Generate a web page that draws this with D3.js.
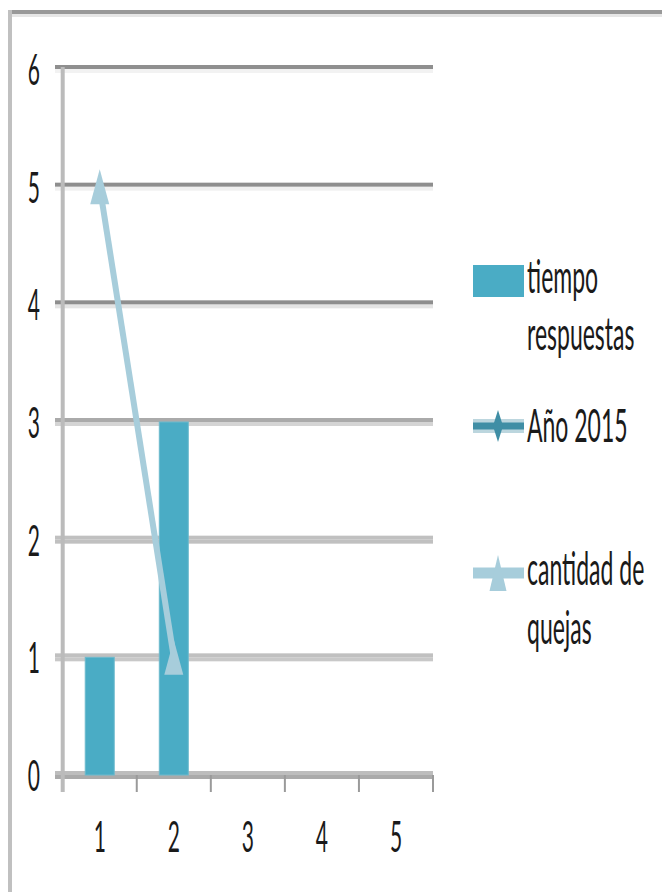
<!DOCTYPE html>
<html>
<head>
<meta charset="utf-8">
<script src="https://cdn.jsdelivr.net/npm/d3@7"></script>
<style>
  body { margin: 0; background: #fff; }
  text { font-family: Lato, "Liberation Sans", sans-serif; fill: #1a1a1a; }
</style>
</head>
<body>
<div id="wrapper"></div>
<script>
// data
const categories = [1, 2, 3, 4, 5];
const tiempoRespuestas = [1, 3, null, null, null];
const ano2015 = [null, null, null, null, null];
const cantidadQuejas = [5, 1, null, null, null];
const yTicks = [0, 1, 2, 3, 4, 5, 6];
const seriesNames = ["tiempo respuestas", "Año 2015", "cantidad de quejas"];

// gridline colours (dark band on top, light band under it)
const gridDark = ["#bdbdbd", "#c0c0c0", "#c0c0c0", "#aaaaaa", "#8e8e8e", "#8e8e8e", "#8f8f8f"];
const gridLight = ["#aaaaaa", "#c8c8c8", "#c0c0c0", "#d4d4d4", "#e4e4e4", "#f0f0f0", "#f2f2f2"];

const barColor = "#4aacc5";
const lineColor = "#a7cddb";
const anoColor = "#3f8ea5";

let dimensions = {
    width: 662,
    height: 892,
    plot: { left: 62.7, right: 433, top: 69, bottom: 775 }
};

const svg = d3.select("#wrapper")
    .append("svg")
        .attr("width", dimensions.width)
        .attr("height", dimensions.height);

// outer frame (top and left edge only visible)
svg.append("rect").attr("x", 8).attr("y", 14).attr("width", dimensions.width - 8).attr("height", 3).attr("fill", "#e6e6e6");
svg.append("rect").attr("x", 8).attr("y", 10).attr("width", dimensions.width - 8).attr("height", 4).attr("fill", "#999");
svg.append("rect").attr("x", 8).attr("y", 10).attr("width", 4).attr("height", dimensions.height - 10).attr("fill", "#c0c0c0");

// scales
const xScale = d3.scaleBand()
    .domain(categories)
    .range([dimensions.plot.left, dimensions.plot.right])
    .padding(0);
const yScale = d3.scaleLinear()
    .domain([0, 6])
    .range([dimensions.plot.bottom, dimensions.plot.top]);

// gridlines
const grid = svg.append("g");
yTicks.forEach((t, i) => {
    grid.append("rect")
        .attr("x", 55).attr("y", yScale(t))
        .attr("width", dimensions.plot.right - 55).attr("height", 4)
        .attr("fill", gridLight[i]);
    grid.append("rect")
        .attr("x", 55).attr("y", yScale(t) - 4)
        .attr("width", dimensions.plot.right - 55).attr("height", 4)
        .attr("fill", gridDark[i]);
});

// y axis line
svg.append("rect")
    .attr("x", dimensions.plot.left - 2).attr("y", yScale(6) - 2)
    .attr("width", 4).attr("height", 792 - yScale(6) + 2)
    .attr("fill", "#bbb");

// x axis ticks at category boundaries
const boundaries = categories.map(c => xScale(c) + xScale.bandwidth());
svg.append("g").selectAll("line")
    .data(boundaries)
    .join("line")
        .attr("x1", d => d).attr("x2", d => d)
        .attr("y1", yScale(0)).attr("y2", 792)
        .attr("stroke", "#9a9a9a")
        .attr("stroke-width", 2);

// y labels
svg.append("g").selectAll("text")
    .data(yTicks)
    .join("text")
        .attr("transform", d => `translate(40, ${yScale(d) + 16}) scale(1, 2)`)
        .attr("text-anchor", "end")
        .style("font-size", "21px")
        .text(d => d);

// x labels
svg.append("g").selectAll("text")
    .data(categories)
    .join("text")
        .attr("transform", d => `translate(${xScale(d) + xScale.bandwidth() / 2}, 852) scale(1, 2)`)
        .attr("text-anchor", "middle")
        .style("font-size", "21px")
        .text(d => d);

// bars
const barW = 29;
svg.append("g").selectAll("rect")
    .data(categories.map((c, i) => ({ c, v: tiempoRespuestas[i] })).filter(d => d.v != null))
    .join("rect")
        .attr("x", d => xScale(d.c) + xScale.bandwidth() / 2 - barW / 2)
        .attr("y", d => yScale(d.v))
        .attr("width", barW)
        .attr("height", d => yScale(0) - yScale(d.v))
        .attr("fill", barColor)
        .attr("stroke", "#6cbacd")
        .attr("stroke-width", 1);

// line series
const linePoints = categories.map((c, i) => ({ c, v: cantidadQuejas[i] })).filter(d => d.v != null);
const lineGenerator = d3.line()
    .x(d => xScale(d.c) + xScale.bandwidth() / 2)
    .y(d => yScale(d.v));
svg.append("path")
    .attr("d", lineGenerator(linePoints))
    .attr("fill", "none")
    .attr("stroke", lineColor)
    .attr("stroke-width", 6);

const triangle = (cx, cy, w, h) => `M${cx},${cy - h / 2}L${cx + w / 2},${cy + h / 2}L${cx - w / 2},${cy + h / 2}Z`;
svg.append("g").selectAll("path")
    .data(linePoints)
    .join("path")
        .attr("d", d => triangle(xScale(d.c) + xScale.bandwidth() / 2, yScale(d.v), 19, 35))
        .attr("fill", lineColor);

// Año 2015 series has no visible points
const anoPoints = categories.map((c, i) => ({ c, v: ano2015[i] })).filter(d => d.v != null);
svg.append("path")
    .attr("d", lineGenerator(anoPoints) || "")
    .attr("fill", "none")
    .attr("stroke", anoColor)
    .attr("stroke-width", 6);

// legend
const legend = svg.append("g");
const legendText = (lines, baselines) => {
    lines.forEach((t, i) => {
        legend.append("text")
            .attr("transform", `translate(527, ${baselines[i]}) scale(1, 2)`)
            .style("font-size", "23px")
            .text(t);
    });
};
// tiempo respuestas
legend.append("rect")
    .attr("x", 473).attr("y", 265).attr("width", 51).attr("height", 32)
    .attr("fill", barColor);
legendText(["tiempo", "respuestas"], [293, 350]);

// Año 2015
legend.append("line")
    .attr("x1", 473).attr("x2", 524).attr("y1", 426).attr("y2", 426)
    .attr("stroke", "#bcd6de").attr("stroke-width", 14);
legend.append("line")
    .attr("x1", 473).attr("x2", 524).attr("y1", 426).attr("y2", 426)
    .attr("stroke", anoColor).attr("stroke-width", 7);
legend.append("path")
    .attr("d", "M498,410L503,426L498,442L493,426Z")
    .attr("fill", anoColor);
legendText([seriesNames[1]], [442]);

// cantidad de quejas
legend.append("line")
    .attr("x1", 473).attr("x2", 524).attr("y1", 573).attr("y2", 573)
    .attr("stroke", lineColor).attr("stroke-width", 11);
legend.append("path")
    .attr("d", triangle(498, 573, 17, 36))
    .attr("fill", lineColor);
legendText(["cantidad de", "quejas"], [585, 644]);
</script>
</body>
</html>
